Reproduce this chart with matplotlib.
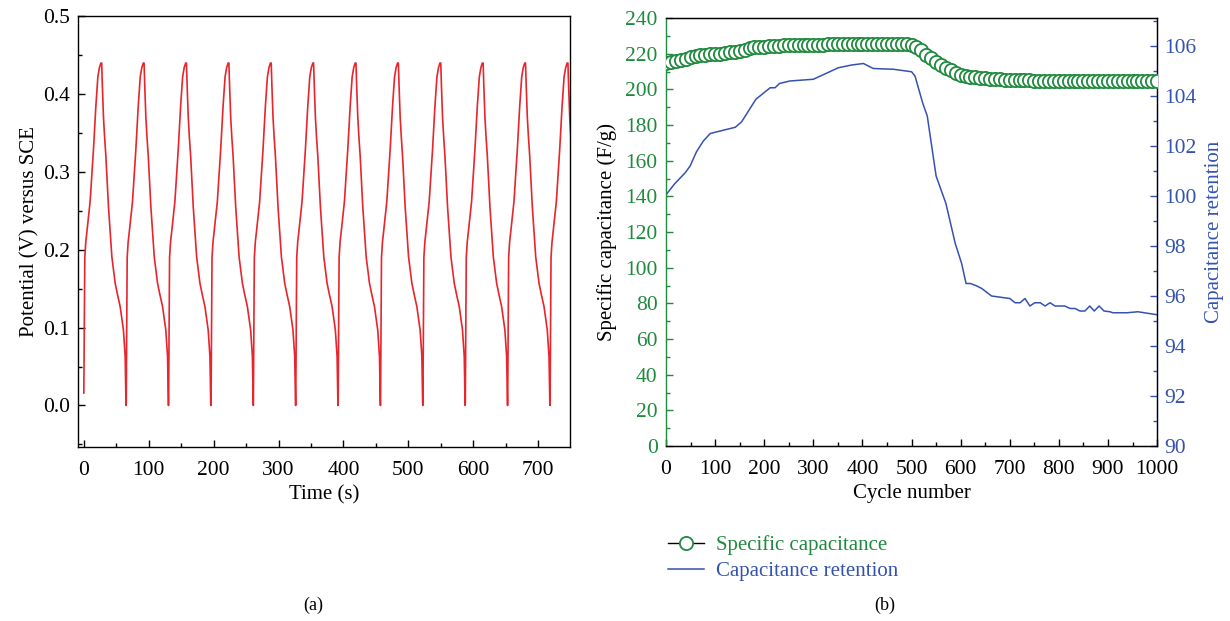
import matplotlib
matplotlib.use('Agg')
from matplotlib import pyplot as plt
from matplotlib.lines import Line2D
from matplotlib.ticker import MultipleLocator, FormatStrFormatter

plt.rcParams['font.family'] = ['Liberation Serif', 'DejaVu Serif']
plt.rcParams['font.size'] = 15

RED   = '#e8242c'
GREEN = '#1f8a3e'
BLUE  = '#3452b0'
TICK_FS = 15.5

# (a) galvanostatic charge/discharge: one cycle,
# repeated at the trough times
cycle_t = [0, 0.8, 1.5, 3.0, 4.6, 9.7, 14.8, 18.5, 21.6, 24.0, 26.3, 27.5,
           28.6, 30.3, 32.0, 34.0, 38.0, 43.2, 48.3, 52.0, 56.0, 61.0, 63.7, 65.0]
cycle_v = [0.0, 0.10, 0.19, 0.21, 0.222, 0.262, 0.328, 0.384, 0.422, 0.434, 0.44, 0.44,
           0.41, 0.37, 0.345, 0.32, 0.255, 0.191, 0.157, 0.142, 0.127, 0.097, 0.063, 0.0]
trough_times = [0, 65.3, 130.6, 196.0, 261.2, 326.5, 391.8, 457.1, 522.4, 587.7, 653.0, 718.3]
start_v = 0.016

# (b) cycling stability
cyc_green = list(range(0, 1001, 10))
spec_cap = [215.0, 215.5, 216.0, 216.5, 217.0, 218.0, 218.5, 219.0, 219.5, 220.0,
            220.0, 220.0, 220.5, 221.0, 221.0, 221.5, 222.0, 223.0, 223.5, 224.0,
            224.0, 224.5, 224.5, 224.5, 225.0, 225.0, 225.0, 225.0, 225.0, 225.0,
            225.0, 225.0, 225.0, 225.2, 225.2, 225.2, 225.3, 225.3, 225.3, 225.4,
            225.4, 225.4, 225.4, 225.4, 225.4, 225.4, 225.4, 225.4, 225.3, 225.2,
            224.8, 223.5, 222.0, 219.5, 217.4, 215.5, 213.6, 212.2, 210.8, 209.3,
            208.3, 207.7, 207.2, 206.8, 206.4, 206.2, 206.0, 205.8, 205.6, 205.4,
            205.2, 205.1, 205.0, 205.0, 205.0, 204.9, 204.9, 204.9, 204.8, 204.8,
            204.8, 204.8, 204.7, 204.7, 204.7, 204.7, 204.6, 204.6, 204.6, 204.6,
            204.6, 204.6, 204.5, 204.5, 204.5, 204.5, 204.5, 204.5, 204.5, 204.5,
            204.5]

cyc_blue = [0, 18, 39, 49, 62, 76, 90, 141, 154, 183, 212, 222, 231, 252, 300,
            351, 378, 402, 422, 463, 500, 507, 523, 532, 550, 570, 589, 602, 611,
            620, 633, 643, 663, 700, 711, 721, 731, 741, 751, 762, 772, 782, 792,
            812, 823, 833, 843, 853, 863, 872, 882, 892, 904, 910, 939, 961, 1000]
retention = [100.05, 100.5, 100.93, 101.2, 101.77, 102.2, 102.5, 102.75, 102.97, 103.87,
             104.33, 104.33, 104.5, 104.6, 104.67, 105.13, 105.24, 105.3, 105.1, 105.07,
             104.97, 104.8, 103.7, 103.2, 100.8, 99.7, 98.1, 97.3, 96.5, 96.5,
             96.4, 96.3, 96.0, 95.9, 95.73, 95.73, 95.9, 95.6, 95.73, 95.73,
             95.6, 95.73, 95.6, 95.6, 95.5, 95.5, 95.4, 95.4, 95.6, 95.4,
             95.6, 95.4, 95.37, 95.33, 95.33, 95.37, 95.25]


def style_ax(ax):
    ax.tick_params(which='both', direction='in', top=False, right=False, labelsize=TICK_FS)
    ax.tick_params(which='major', length=5, width=1, pad=6)
    ax.tick_params(which='minor', length=3, width=1)
    ax.tick_params(axis='x', which='major', pad=10)
    for s in ax.spines.values():
        s.set_linewidth(1.0)


fig = plt.figure(figsize=(12.3, 6.21), dpi=100)

# ---- (a)
ax0 = fig.add_axes([0.0634, 0.2807, 0.400, 0.693])
t_all, v_all = [], []
for i, t0 in enumerate(trough_times):
    vs = list(cycle_v)
    if i == 0:
        vs[0] = start_v
    t_all += [t0 + t for t in cycle_t]
    v_all += vs
ax0.plot(t_all, v_all, color=RED, lw=1.2)
ax0.set_xlim(-9, 749)
ax0.set_ylim(-0.053, 0.5)
ax0.xaxis.set_major_locator(MultipleLocator(100))
ax0.xaxis.set_minor_locator(MultipleLocator(50))
ax0.yaxis.set_major_locator(MultipleLocator(0.1))
ax0.yaxis.set_minor_locator(MultipleLocator(0.05))
ax0.yaxis.set_major_formatter(FormatStrFormatter('%.1f'))
style_ax(ax0)
ax0.set_xlabel('Time (s)', labelpad=4)
ax0.set_ylabel('Potential (V) versus SCE', labelpad=2)

# ---- (b)
ax1 = fig.add_axes([0.5415, 0.2818, 0.3992, 0.6892])
ax1.plot(cyc_green, spec_cap, color='black', lw=1, marker='o', ms=9.5,
         mfc='white', mec=GREEN, mew=1.3, zorder=3)
ax1.set_xlim(0, 1000)
ax1.set_ylim(0, 240)
ax1.xaxis.set_major_locator(MultipleLocator(100))
ax1.xaxis.set_minor_locator(MultipleLocator(50))
ax1.yaxis.set_major_locator(MultipleLocator(20))
ax1.yaxis.set_minor_locator(MultipleLocator(10))
style_ax(ax1)
ax1.tick_params(axis='y', which='both', colors=GREEN)
ax1.spines['left'].set_color(GREEN)
ax1.set_xlabel('Cycle number', labelpad=4)
ax1.set_ylabel('Specific capacitance (F/g)', labelpad=6)

ax2 = ax1.twinx()
ax2.plot(cyc_blue, retention, color=BLUE, lw=1.1)
ax2.set_ylim(90, 107.12)
ax2.yaxis.set_major_locator(MultipleLocator(2))
ax2.yaxis.set_minor_locator(MultipleLocator(1))
ax2.tick_params(which='both', direction='in', colors=BLUE, labelsize=TICK_FS)
ax2.tick_params(which='major', length=5, width=1, pad=5)
ax2.tick_params(which='minor', length=3, width=1)
ax2.spines['right'].set_color(BLUE)
ax2.spines['left'].set_visible(False)
ax2.set_ylabel('Capacitance retention', color=BLUE, labelpad=6)
ax1.set_zorder(ax2.get_zorder() + 1)
ax1.patch.set_visible(False)

handles = [Line2D([], [], color='black', lw=1, marker='o', ms=9.5, mfc='white', mec=GREEN, mew=1.3),
           Line2D([], [], color=BLUE, lw=1.1)]
leg = fig.legend(handles, ['Specific capacitance', 'Capacitance retention'],
                 loc='upper left', bbox_to_anchor=(0.5345, 0.155), frameon=False,
                 handlelength=1.75, handletextpad=0.55, labelspacing=0.3, borderpad=0)
leg.get_texts()[0].set_color(GREEN)
leg.get_texts()[1].set_color(BLUE)

fig.text(313 / 1230, 1 - 605 / 621, '(a)', ha='center', va='center', fontsize=13)
fig.text(885 / 1230, 1 - 605 / 621, '(b)', ha='center', va='center', fontsize=13)

plt.savefig('out.png', dpi=100)
